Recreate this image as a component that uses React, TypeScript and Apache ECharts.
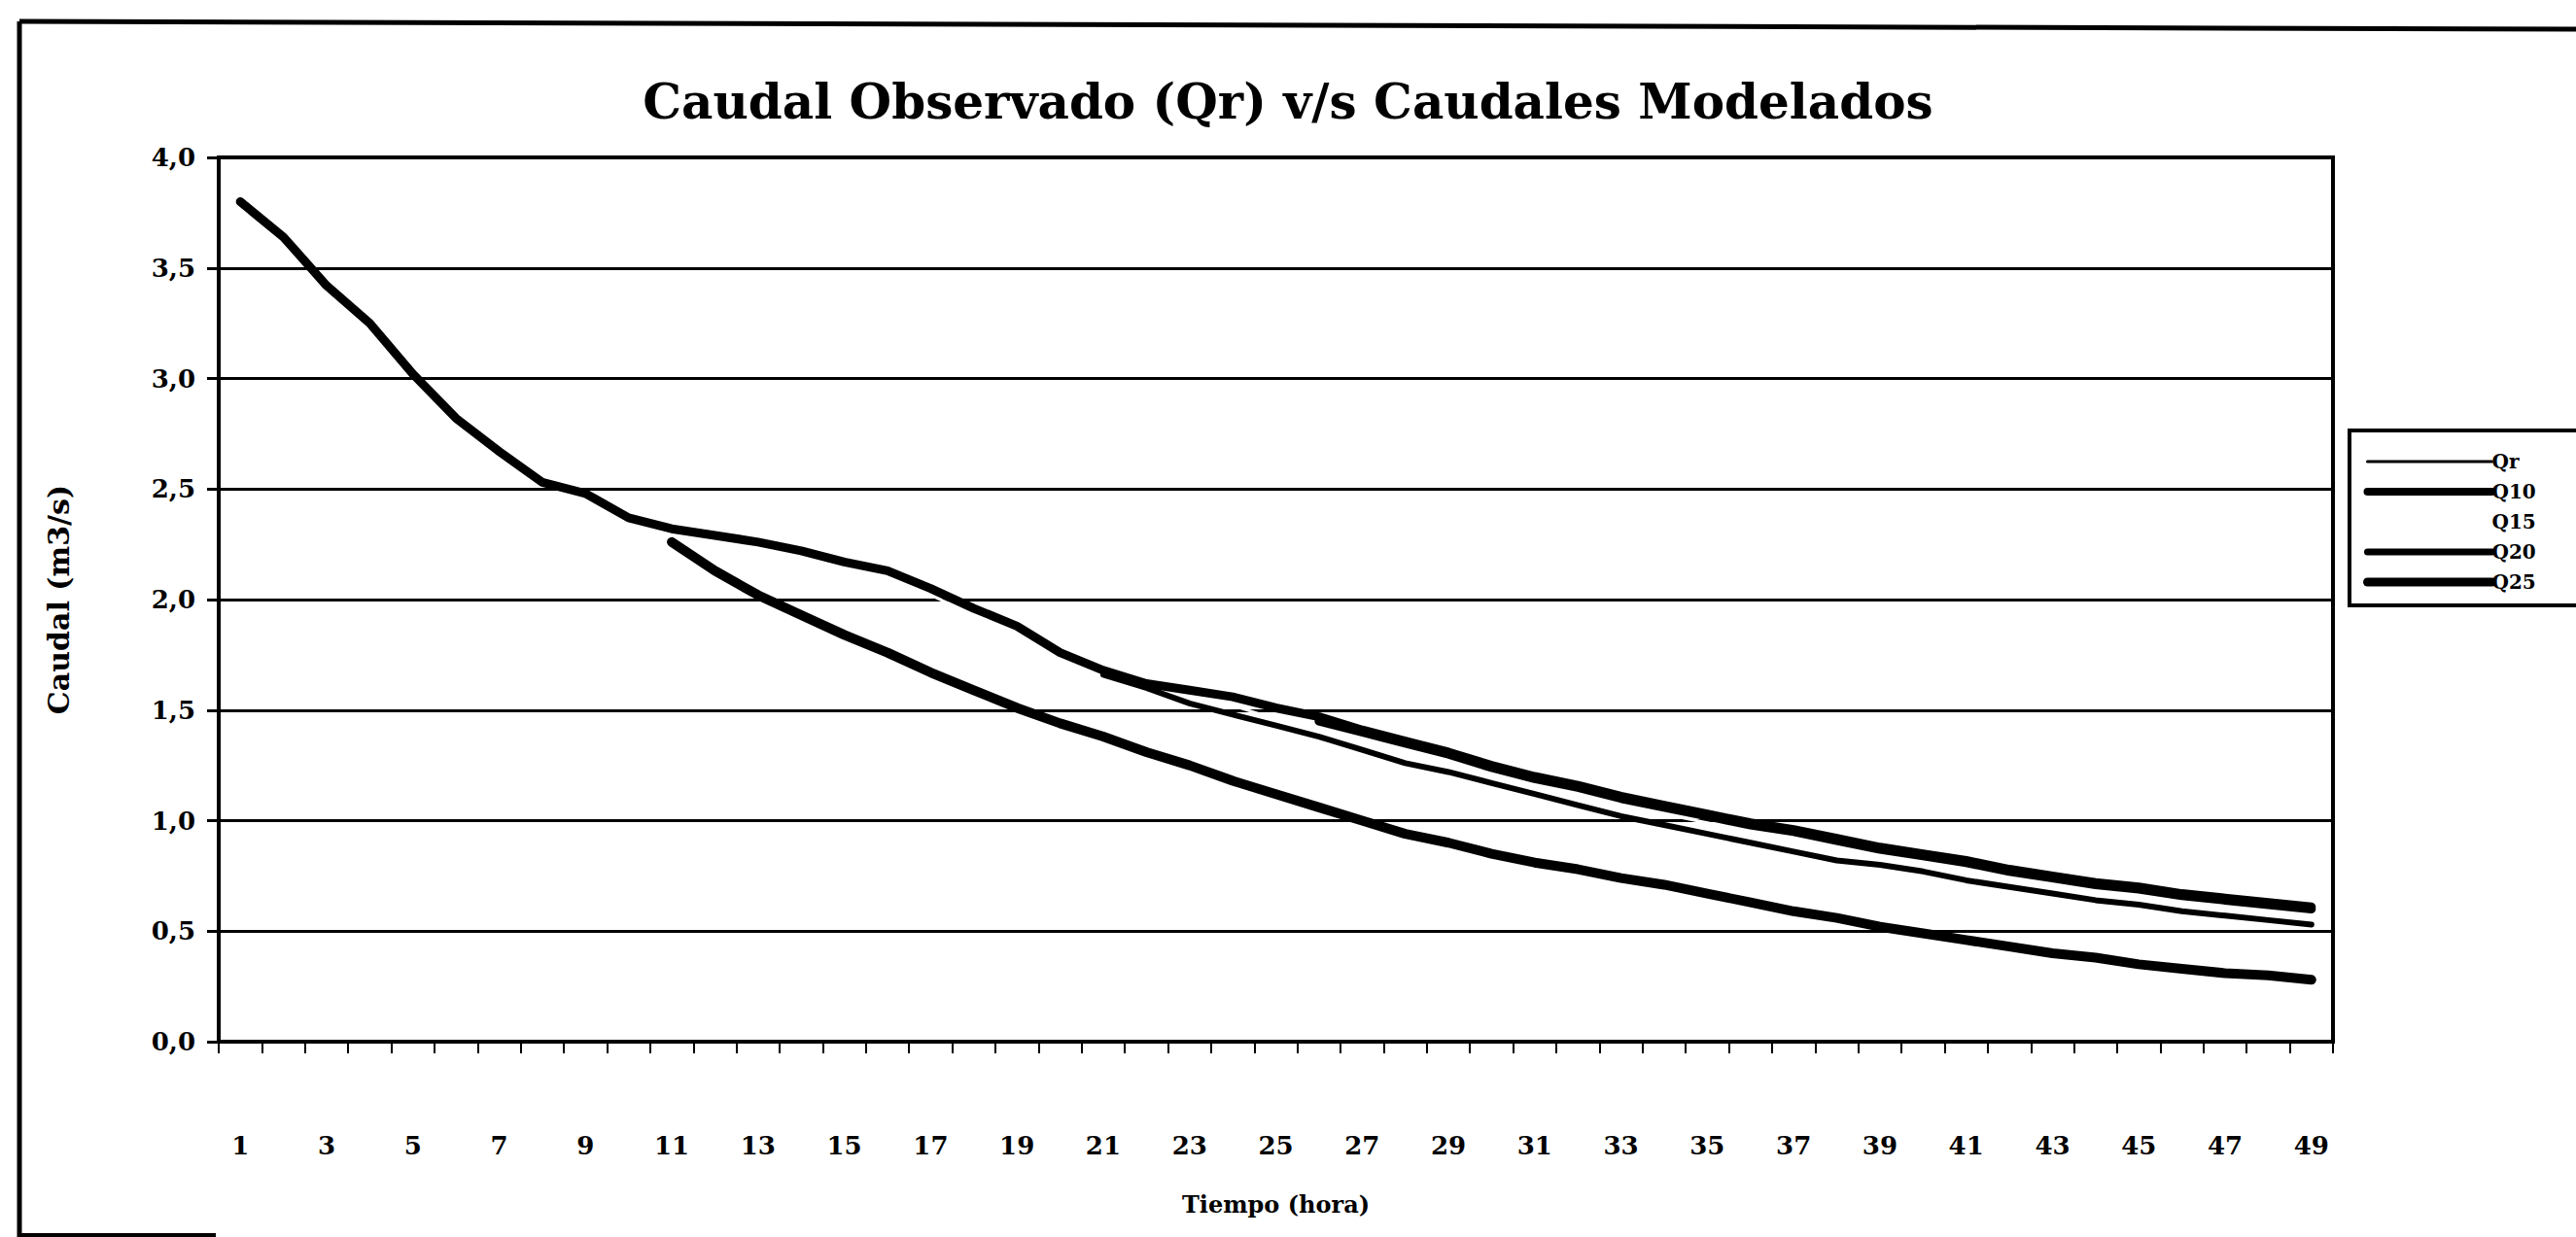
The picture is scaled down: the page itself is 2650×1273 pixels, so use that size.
import React, { useEffect, useRef } from "react";
import * as echarts from "echarts";

const hours = [
  "1", "2", "3", "4", "5", "6", "7", "8", "9", "10",
  "11", "12", "13", "14", "15", "16", "17", "18", "19", "20",
  "21", "22", "23", "24", "25", "26", "27", "28", "29", "30",
  "31", "32", "33", "34", "35", "36", "37", "38", "39", "40",
  "41", "42", "43", "44", "45", "46", "47", "48", "49",
];

const yTicks = [0, 0.5, 1, 1.5, 2, 2.5, 3, 3.5, 4];

// Observed flow, hours 1..49
const qrValues = [
  3.8, 3.64, 3.42, 3.25, 3.02, 2.82, 2.67, 2.53, 2.48, 2.37,
  2.32, 2.29, 2.26, 2.22, 2.17, 2.13, 2.05, 1.96, 1.88, 1.76,
  1.68, 1.62, 1.59, 1.56, 1.51, 1.47, 1.41, 1.36, 1.31, 1.25,
  1.2, 1.16, 1.11, 1.07, 1.03, 0.99, 0.96, 0.92, 0.88, 0.85,
  0.82, 0.78, 0.75, 0.72, 0.7, 0.67, 0.65, 0.63, 0.61,
];
const qrStart = 1;

// Modelled flows (start hour + values)
const q10Start = 11;
const q10Values = [
  2.26, 2.13, 2.02, 1.93, 1.84, 1.76, 1.67, 1.59, 1.51, 1.44,
  1.38, 1.31, 1.25, 1.18, 1.12, 1.06, 1.0, 0.94, 0.9, 0.85,
  0.81, 0.78, 0.74, 0.71, 0.67, 0.63, 0.59, 0.56, 0.52, 0.49,
  0.46, 0.43, 0.4, 0.38, 0.35, 0.33, 0.31, 0.3, 0.28,
];

const q15Start = 16;
const q15Values = [
  2.12, 2.02, 1.93, 1.85, 1.76, 1.68, 1.61, 1.56, 1.52, 1.46,
  1.41, 1.36, 1.31, 1.26, 1.21, 1.16, 1.12, 1.07, 1.03, 0.99,
  0.95, 0.91, 0.87, 0.84, 0.81, 0.77, 0.74, 0.71, 0.68, 0.66,
  0.63, 0.61, 0.59, 0.57,
];

const q20Start = 21;
const q20Values = [
  1.66, 1.6, 1.53, 1.48, 1.43, 1.38, 1.32, 1.26, 1.22, 1.17,
  1.12, 1.07, 1.02, 0.98, 0.94, 0.9, 0.86, 0.82, 0.8, 0.77,
  0.73, 0.7, 0.67, 0.64, 0.62, 0.59, 0.57, 0.55, 0.53,
];

const q25Start = 26;
const q25Values = [
  1.45, 1.4, 1.35, 1.3, 1.24, 1.19, 1.15, 1.1, 1.06, 1.02,
  0.98, 0.95, 0.91, 0.87, 0.84, 0.81, 0.77, 0.74, 0.71, 0.69,
  0.66, 0.64, 0.62, 0.6,
];

const seriesNames = ["Qr", "Q10", "Q15", "Q20", "Q25"];
const legendLineWidths = [3, 8, 0, 7, 9];

function pad(start: number, values: number[]) {
  return hours.map((h, i) => {
    const k = i + 1 - start;
    return k >= 0 && k < values.length ? values[k] : null;
  });
}

const SERIF = "DejaVu Serif";

export default function App() {
  const ref = useRef<HTMLDivElement>(null);

  useEffect(() => {
    document.body.style.margin = "0";
    if (!ref.current) return;
    const chart = echarts.init(ref.current, null, { renderer: "svg" });

    const mk = (name: string, data: (number | null)[], color: string, width: number, z: number) => ({
      name,
      type: "line",
      data,
      showSymbol: false,
      symbol: "none",
      connectNulls: false,
      z,
      lineStyle: { color, width, cap: "round", join: "round" },
      itemStyle: { color },
    });

    chart.setOption({
      animation: false,
      backgroundColor: "#ffffff",
      title: {
        text: "Caudal Observado (Qr) v/s Caudales Modelados",
        left: "center",
        top: 74,
        textStyle: {
          fontFamily: SERIF,
          fontWeight: "bold",
          fontSize: 50,
          color: "#000",
        },
      },
      grid: {
        left: 225,
        right: 250,
        top: 162,
        bottom: 1273 - 1072,
        show: true,
        borderColor: "#000",
        borderWidth: 4,
        backgroundColor: "transparent",
      },
      legend: {
        orient: "vertical",
        left: 2417,
        top: 443,
        data: seriesNames.map((n, i) => ({
          name: n,
          lineStyle: { width: legendLineWidths[i] },
        })),
        itemWidth: 128,
        itemHeight: 14,
        itemGap: 11,
        padding: [22, 80, 14, 14],
        borderColor: "#000",
        borderWidth: 4,
        itemStyle: { opacity: 0 },
        textStyle: {
          fontFamily: SERIF,
          fontWeight: "bold",
          fontSize: 20,
          color: "#000",
          padding: [0, 0, 0, -5],
        },
      },
      xAxis: {
        type: "category",
        data: hours,
        boundaryGap: true,
        name: "Tiempo (hora)",
        nameLocation: "middle",
        nameGap: 155,
        nameTextStyle: {
          fontFamily: SERIF,
          fontWeight: "bold",
          fontSize: 24,
          color: "#000",
        },
        axisLine: { lineStyle: { color: "#000", width: 4 } },
        axisTick: { show: true, interval: 0, length: 12, lineStyle: { color: "#000", width: 2 } },
        axisLabel: {
          interval: 1,
          margin: 94,
          fontFamily: SERIF,
          fontWeight: "bold",
          fontSize: 26,
          color: "#000",
        },
        splitLine: { show: false },
      },
      yAxis: {
        type: "value",
        min: yTicks[0],
        max: yTicks[yTicks.length - 1],
        interval: 0.5,
        name: "Caudal (m3/s)",
        nameLocation: "middle",
        nameGap: 150,
        nameRotate: 90,
        nameTextStyle: {
          fontFamily: SERIF,
          fontWeight: "bold",
          fontSize: 30,
          color: "#000",
        },
        axisLine: { show: true, lineStyle: { color: "#000", width: 4 } },
        axisTick: { show: true, length: 12, lineStyle: { color: "#000", width: 3 } },
        axisLabel: {
          margin: 24,
          fontFamily: SERIF,
          fontWeight: "bold",
          fontSize: 26,
          color: "#000",
          formatter: (v: number) => v.toFixed(1).replace(".", ","),
        },
        splitLine: { show: true, lineStyle: { color: "#000", width: 3 } },
      },
      graphic: [
        {
          type: "line",
          shape: { x1: 20, y1: 22, x2: 2650, y2: 30 },
          style: { stroke: "#000", lineWidth: 5 },
        },
        {
          type: "line",
          shape: { x1: 20, y1: 22, x2: 20, y2: 1273 },
          style: { stroke: "#000", lineWidth: 5 },
        },
        {
          type: "line",
          shape: { x1: 20, y1: 1271, x2: 222, y2: 1271 },
          style: { stroke: "#000", lineWidth: 4 },
        },
      ],
      series: [
        mk("Q15", pad(q15Start, q15Values), "#ffffff", 3, 1),
        mk("Qr", pad(qrStart, qrValues), "#000000", 9, 3),
        mk("Q10", pad(q10Start, q10Values), "#000000", 10, 3),
        mk("Q20", pad(q20Start, q20Values), "#000000", 6, 3),
        mk("Q25", pad(q25Start, q25Values), "#000000", 9, 3),
      ],
    });

    return () => chart.dispose();
  }, []);

  return <div ref={ref} style={{ width: 2650, height: 1273 }} />;
}
